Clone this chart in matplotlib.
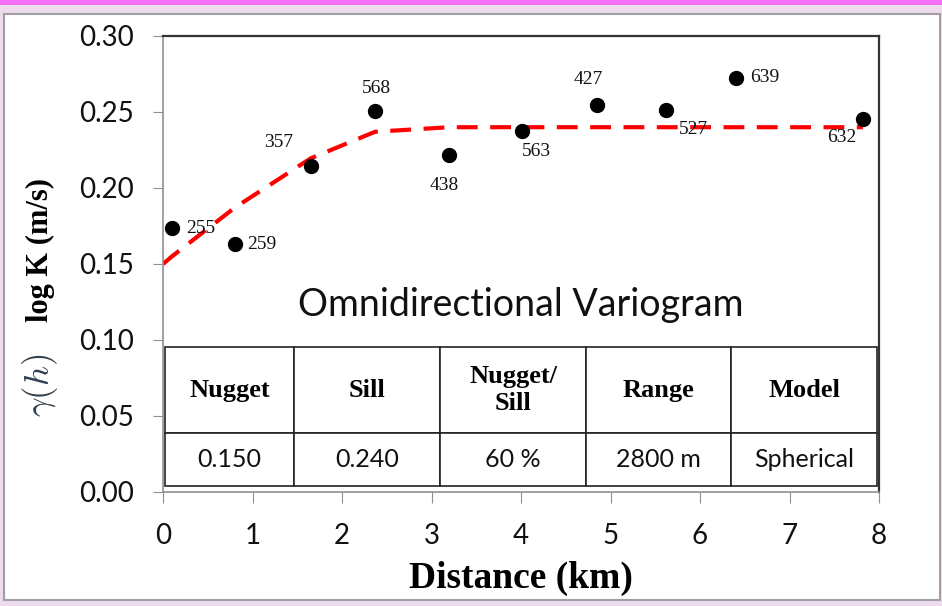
import matplotlib
matplotlib.use('Agg')
import matplotlib.pyplot as plt
from matplotlib.patches import Rectangle

# experimental variogram points (distance km, semivariance)
dist = [0.10, 0.80, 1.65, 2.37, 3.20, 4.01, 4.85, 5.62, 6.40, 7.82]
gamma = [0.1735, 0.163, 0.2145, 0.2505, 0.2215, 0.2375, 0.2544, 0.2515, 0.2726, 0.2454]
npairs = ['255', '259', '357', '568', '438', '563', '427', '527', '639', '632']
# label offsets in pixels (dx, dy)
lab_off = [(14, 0), (13, 0), (-32, 23), (1, 23), (-5, -30), (15, -21), (-9, 26), (28, -20), (14, 0), (-21, -19)]
lab_ha = ['left', 'left', 'center', 'center', 'center', 'center', 'center', 'center', 'left', 'center']

# fitted spherical model
model_x = [0, 0.10, 0.80, 1.65, 2.37, 3.20, 4.01, 4.85, 5.62, 6.40, 7.82]
model_y = [0.150, 0.155, 0.187, 0.2195, 0.237, 0.240, 0.240, 0.240, 0.240, 0.240, 0.240]

headers = ['Nugget', 'Sill', 'Nugget/\nSill', 'Range', 'Model']
values = ['0.150', '0.240', '60 %', '2800 m', 'Spherical']

SANS = 'Lato'
SERIF = 'Liberation Serif'
px = 1 / 1.389

fig = plt.figure(figsize=(9.42, 6.06), dpi=100)
fig.patch.set_facecolor('#eedcee')
fig.add_artist(Rectangle((0, 1 - 5 / 606), 1, 5 / 606, transform=fig.transFigure,
                         facecolor='#f76ef7', edgecolor='none', zorder=-2))
fig.add_artist(Rectangle((4 / 942, 1 - 600 / 606), 936 / 942, 586 / 606, transform=fig.transFigure,
                         facecolor='white', edgecolor='#a0a0a0', linewidth=1.5, zorder=-2))

ax = fig.add_axes([163 / 942, 1 - 492 / 606, 716 / 942, 456 / 606])
ax.set_xlim(0, 8)
ax.set_ylim(0, 0.30)
ax.set_facecolor('none')

ax.plot(model_x, model_y, color='#ff0000', linewidth=3, dashes=(5, 3), zorder=2)
ax.plot(dist, gamma, 'o', color='black', markersize=10, zorder=3)

for x, y, t, (dx, dy), ha in zip(dist, gamma, npairs, lab_off, lab_ha):
    ax.annotate(t, (x, y), xytext=(dx * px, dy * px), textcoords='offset points',
                ha=ha, va='center', fontsize=14, family=SERIF, color='#111111', zorder=4)

ax.set_xticks(range(0, 9))
ax.set_yticks([0, 0.05, 0.10, 0.15, 0.20, 0.25, 0.30])
ax.set_yticklabels(['0.00', '0.05', '0.10', '0.15', '0.20', '0.25', '0.30'])
ax.tick_params(axis='both', direction='out', color='#909090', labelsize=20, pad=14,
               labelcolor='#111111')
ax.tick_params(axis='y', length=7)
ax.tick_params(axis='x', length=8)
for lab in ax.get_xticklabels() + ax.get_yticklabels():
    lab.set_family(SANS)

for s in ['left', 'bottom']:
    ax.spines[s].set_color('#909090')
    ax.spines[s].set_linewidth(1.2)
for s in ['top', 'right']:
    ax.spines[s].set_color('#333333')
    ax.spines[s].set_linewidth(1.6)

ax.set_xlabel('Distance (km)', family=SERIF, fontweight='bold', fontsize=27, labelpad=9)

fig.text(40 / 942, 1 - 385 / 606, r'$\gamma(h)$', rotation=90, ha='center', va='center',
         fontsize=25, color='#2f3e4e', math_fontfamily='cm')
fig.text(40 / 942, 1 - 250 / 606, 'log K (m/s)', rotation=90, ha='center', va='center',
         fontsize=22, family=SERIF, fontweight='bold')

ax.text(4.0, (492 - 305) / 1520, 'Omnidirectional Variogram', ha='center', va='center',
        fontsize=27, family=SANS, color='#111111')

tbl = ax.table(cellText=[values], colLabels=headers, cellLoc='center',
               bbox=[2 / 716, 6 / 456, 712 / 716, 139 / 456])
tbl.auto_set_font_size(False)
col_w = [129, 146, 146, 145, 146]
for (r, c), cell in tbl.get_celld().items():
    cell.set_width(col_w[c])
    cell.set_height(86 if r == 0 else 53)
    cell.set_edgecolor('#222222')
    cell.set_linewidth(1.2)
    cell.set_facecolor('white')
    txt = cell.get_text()
    if r == 0:
        txt.set_family(SERIF)
        txt.set_fontweight('bold')
        txt.set_fontsize(19)
        txt.set_linespacing(1.25)
    else:
        txt.set_family(SANS)
        txt.set_fontsize(18)
        txt.set_color('#111111')

fig.savefig('out.png', dpi=100, facecolor=fig.get_facecolor())
